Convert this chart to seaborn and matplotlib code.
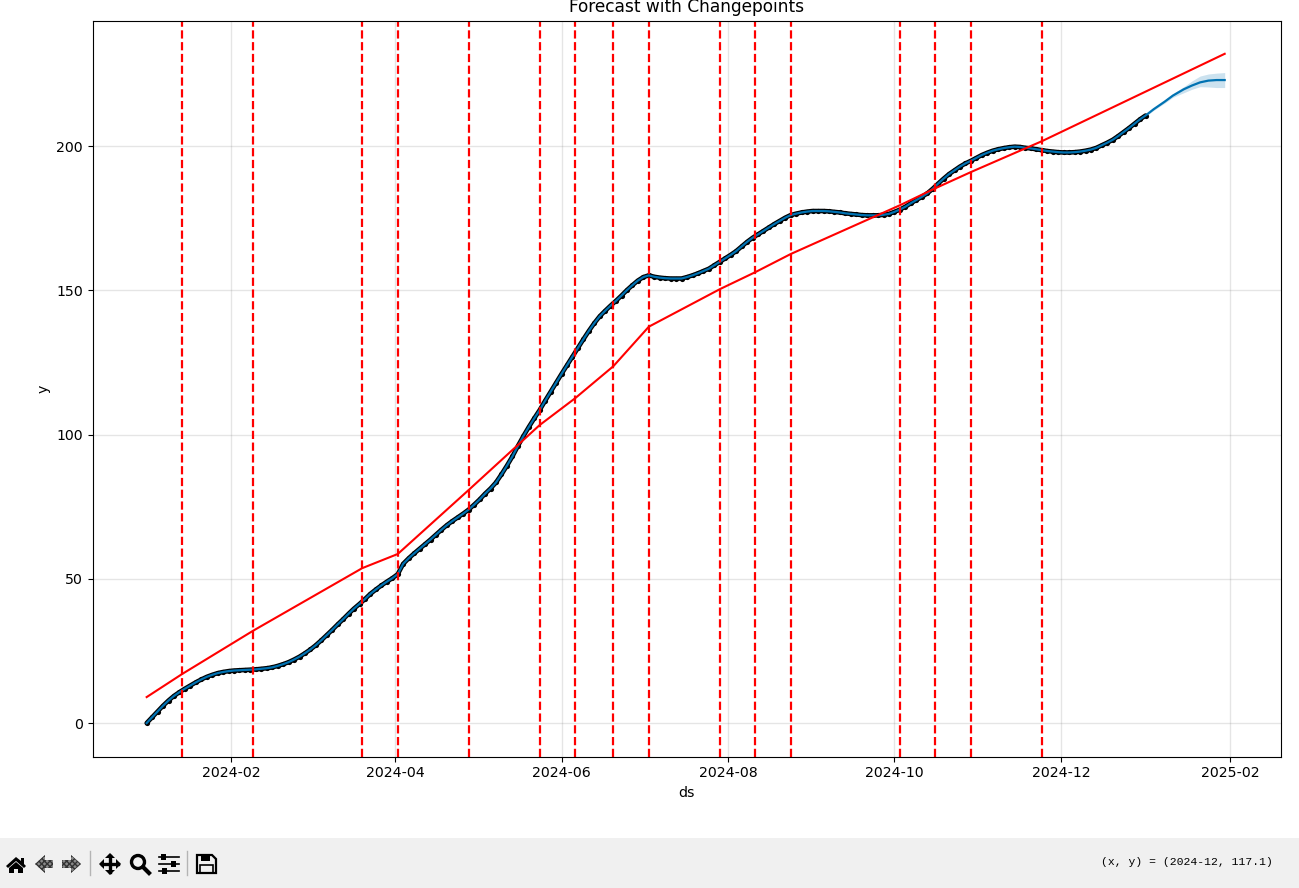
import matplotlib
matplotlib.use("Agg")
import matplotlib.pyplot as plt
import matplotlib.dates as mdates
from matplotlib.patches import Circle, Polygon, Rectangle
import seaborn as sns
import pandas as pd

START = pd.Timestamp("2024-01-01")

plt.rcParams.update({"font.size": 10.15, "axes.titlesize": 12.25})

# values, x given as days after 2024-01-01
obs_days = list(range(0, 366, 2)) + [366]
obs_y = [0, 2.0, 4.0, 6.0, 7.8, 9.4, 10.7, 11.9, 13.0, 14.1, 15.1, 16.0, 16.7, 17.3, 17.7,
         18.0, 18.2, 18.3, 18.4, 18.5, 18.6, 18.8, 19.0, 19.3, 19.8, 20.4, 21.1, 22.0, 23.0,
         24.2, 25.5, 27.0, 28.7, 30.5, 32.3, 34.2, 36.0, 37.9, 39.7, 41.3, 43.0, 44.8, 46.3,
         47.7, 49.0, 50.2, 51.6, 55.2, 57.1, 58.8, 60.4, 62.0, 63.6, 65.3, 67.0, 68.6, 70.0,
         71.3, 72.6, 74.0, 75.7, 77.5, 79.5, 81.3, 83.4, 86.2, 89.2, 92.4, 96.0, 99.4, 102.6,
         105.6, 108.5, 111.7, 114.8, 117.9, 121.0, 124.0, 127.0, 130.0, 133.0, 135.9, 138.6,
         141.0, 142.9, 144.7, 146.4, 148.2, 150.1, 151.8, 153.4, 154.6, 155.2, 154.7, 154.4,
         154.2, 154.1, 154.1, 154.1, 154.6, 155.2, 155.9, 156.7, 157.5, 158.7, 159.9, 161.1,
         162.3, 163.6, 165.2, 166.8, 168.2, 169.4, 170.6, 171.8, 173.0, 174.1, 175.2, 176.1,
         176.6, 177.0, 177.3, 177.5, 177.5, 177.5, 177.4, 177.2, 177.0, 176.7, 176.5, 176.3,
         176.1, 176.0, 176.0, 176.0, 176.2, 176.5, 177.2, 178.0, 179.0, 180.2, 181.3, 182.4,
         183.6, 185.2, 187.0, 188.7, 190.3, 191.6, 192.9, 194.0, 194.9, 195.9, 196.9, 197.7,
         198.4, 198.9, 199.3, 199.6, 199.8, 199.7, 199.4, 199.2, 198.9, 198.6, 198.3, 198.1,
         197.9, 197.8, 197.8, 197.9, 198.1, 198.4, 198.8, 199.4, 200.3, 201.2, 202.2, 203.5,
         204.9, 206.3, 207.8, 209.3, 210.6]

fc_days = [366, 369, 373, 376, 380, 383, 386, 389, 392, 395]
fc_y = [210.6, 212.8, 215.4, 217.5, 219.7, 221, 222.1, 222.7, 222.9, 222.9]
fc_upper = [210.9, 213.2, 215.9, 218.2, 220.6, 222.6, 224.3, 225, 225.3, 225.5]
fc_lower = [210.3, 212.4, 214.9, 216.9, 218.5, 219.7, 220.6, 220.5, 220.3, 220.3]

trend_days = [0, 13, 39, 79, 92, 118, 144, 157, 171, 184, 210, 223, 236, 276, 289, 302, 328, 395]
trend_y = [9, 17, 32, 53.7, 58.6, 80.8, 103.3, 112.6, 123.7, 137.4, 150.4, 156.3, 162.6,
           179.5, 185.4, 191, 201.7, 232]

changepoint_days = [13, 39, 79, 92, 118, 144, 157, 171, 184, 210, 223, 236, 276, 289, 302, 328]


def to_dates(days):
    return START + pd.to_timedelta(days, unit="D")


W, H = 1299, 888
fig = plt.figure(figsize=(W / 100, H / 100), dpi=100)
ax = fig.add_axes([92.5 / W, (H - 756.5) / H, (1280.5 - 92.5) / W, (756.5 - 21.5) / H])

obs = pd.DataFrame({"ds": to_dates(obs_days), "y": obs_y})
fc = pd.DataFrame({"ds": to_dates(fc_days), "y": fc_y})
trend = pd.DataFrame({"ds": to_dates(trend_days), "y": trend_y})
yhat = pd.concat([obs, fc.iloc[1:]], ignore_index=True)

# the daily black dots overlap into a band in the reference
sns.lineplot(data=obs, x="ds", y="y", color="k", lw=3.3, estimator=None, sort=False, ax=ax,
             solid_capstyle="round")
sns.scatterplot(data=obs, x="ds", y="y", color="k", s=14, linewidth=0, ax=ax)
sns.lineplot(data=yhat, x="ds", y="y", color="#0072B2", lw=1.6, estimator=None, sort=False, ax=ax)
ax.fill_between(fc["ds"], fc_lower, fc_upper, color="#0072B2", alpha=0.2, linewidth=0)
sns.lineplot(data=trend, x="ds", y="y", color="r", lw=1.5, estimator=None, sort=False, ax=ax)
for d in to_dates(changepoint_days):
    ax.axvline(d, color="r", ls="--", lw=1.6)

ax.grid(True, color="gray", ls="-", lw=1, alpha=0.2)
ax.set_axisbelow(True)
ax.xaxis.set_major_locator(mdates.MonthLocator(bymonth=[2, 4, 6, 8, 10, 12]))
ax.xaxis.set_major_formatter(mdates.DateFormatter("%Y-%m"))
ax.set_xlim(to_dates(-19.85), to_dates(415.45))
ax.set_ylim(-11.6, 243.2)
ax.set_xlabel("ds")
ax.set_ylabel("y")
ax.set_title("Forecast with Changepoints", pad=7)

# window toolbar strip at the bottom of the screenshot
bar = fig.add_axes([0, 0, 1, 1], facecolor="none")
bar.set_xlim(0, W)
bar.set_ylim(H, 0)
bar.axis("off")
bar.add_patch(Rectangle((0, 838), W, 50, color="#f0f0f0", lw=0))
for x in (90, 187):
    bar.plot([x, x], [851, 875], color="#b4b4b4", lw=1)
# home
bar.add_patch(Polygon([(6, 866), (16, 857), (21, 861), (21, 858), (24, 858), (24, 864), (26, 866),
                       (24, 868), (16, 861), (8, 868)], color="k", lw=0))
bar.add_patch(Polygon([(9, 868), (16, 862), (23, 868), (23, 873), (18, 873), (18, 869), (14, 869),
                       (14, 873), (9, 873)], color="k", lw=0))
# back / forward
bar.add_patch(Polygon([(35, 864), (45, 855), (45, 860), (53, 860), (53, 868), (45, 868), (45, 873)],
                      facecolor="#8a8a8a", hatch="xxxxxx", edgecolor="#333333", lw=0))
bar.add_patch(Polygon([(81, 864), (71, 855), (71, 860), (62, 860), (62, 868), (71, 868), (71, 873)],
                      facecolor="#8a8a8a", hatch="xxxxxx", edgecolor="#333333", lw=0))
# pan
bar.plot([102, 118], [864, 864], color="k", lw=2.4)
bar.plot([110, 110], [856, 872], color="k", lw=2.4)
for pts in ([(99, 864), (104, 859), (104, 869)], [(121, 864), (116, 859), (116, 869)],
            [(110, 853), (105, 858), (115, 858)], [(110, 875), (105, 870), (115, 870)]):
    bar.add_patch(Polygon(pts, color="k", lw=0))
# zoom
bar.add_patch(Circle((138, 862), 6.5, fill=False, edgecolor="k", lw=2.4))
bar.plot([143, 149], [867, 873], color="k", lw=3)
# sliders
for y, x in ((857, 164), (864, 174), (871, 165)):
    bar.plot([159, 179], [y, y], color="k", lw=1.2)
    bar.add_patch(Rectangle((x - 2.5, y - 3), 5, 6, color="k", lw=0))
# save
bar.add_patch(Polygon([(197, 855), (212, 855), (216, 859), (216, 873), (197, 873)],
                      fill=False, edgecolor="k", lw=1.6))
bar.add_patch(Rectangle((201, 855), 9, 6, color="k", lw=0))
bar.add_patch(Rectangle((200, 865), 13, 8, fill=False, edgecolor="k", lw=1.2))

bar.text(1101, 862, "(x, y) = (2024-12, 117.1)", family="Liberation Mono", fontsize=8.2,
         va="center", ha="left", color="k")

fig.savefig("out.png", dpi=100)
